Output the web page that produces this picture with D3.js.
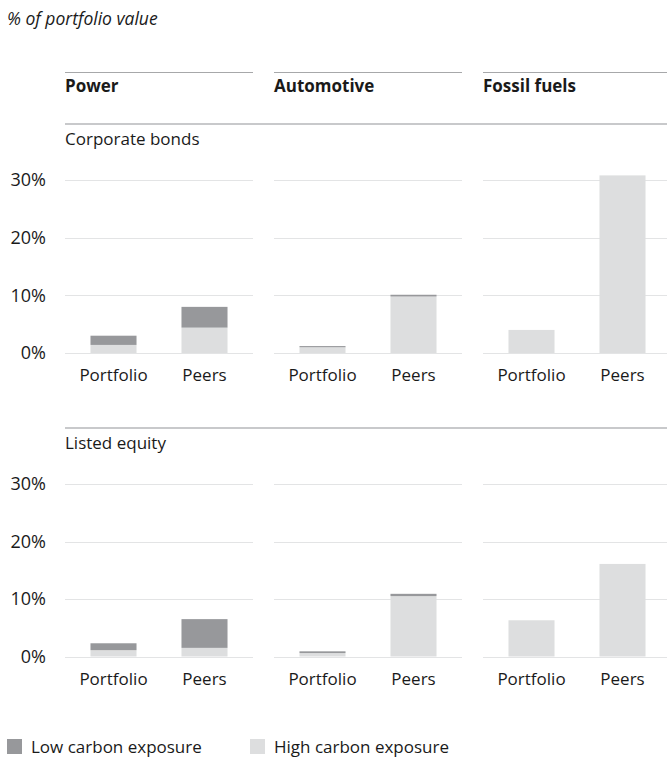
<!DOCTYPE html>
<html>
<head>
<meta charset="utf-8">
<script src="https://cdn.jsdelivr.net/npm/d3@7"></script>
<style>
  body { margin: 0; background: #fff; }
  svg text { font-family: "Open Sans", "Noto Sans", sans-serif; fill: #1a1a1a; }
  .tick text { font-size: 17px; }
</style>
</head>
<body>
<div id="chart"></div>
<script>
const sectors = ["Power", "Automotive", "Fossil fuels"];
const assetClasses = ["Corporate bonds", "Listed equity"];
const groups = ["Portfolio", "Peers"];
const yTicks = [0, 10, 20, 30];
const seriesNames = ["Low carbon exposure", "High carbon exposure"];

// values per sector: [Portfolio, Peers]
const bondsHigh = [[1.4, 4.4], [1.0, 9.8], [4.0, 30.8]];
const bondsLow = [[1.6, 3.6], [0.2, 0.3], [0, 0]];
const equityHigh = [[1.1, 1.5], [0.6, 10.5], [6.3, 16.1]];
const equityLow = [[1.2, 5.0], [0.3, 0.4], [0, 0]];

const WIDTH = 667;
const HEIGHT = 758;
const COLORS = { low: "#97989b", high: "#dddedf" };

const PANEL_X = [65, 274, 483];
const PANEL_W = 188;
const ROWS = [
  { label: assetClasses[0], high: bondsHigh, low: bondsLow, lineY: 124, zero: 353, top: 180 },
  { label: assetClasses[1], high: equityHigh, low: equityLow, lineY: 428, zero: 656.5, top: 484 }
];

const svg = d3.select("#chart")
  .append("svg")
  .attr("width", WIDTH)
  .attr("height", HEIGHT);

svg.append("text")
  .attr("x", 7)
  .attr("y", 25)
  .attr("font-size", "17.5px")
  .attr("font-style", "italic")
  .text("% of portfolio value");

// sector headers
sectors.forEach((s, i) => {
  svg.append("line")
    .attr("x1", PANEL_X[i]).attr("x2", Math.min(PANEL_X[i] + PANEL_W, WIDTH))
    .attr("y1", 72.5).attr("y2", 72.5)
    .attr("stroke", "#a7a8aa").attr("stroke-width", 1);
  svg.append("text")
    .attr("x", PANEL_X[i])
    .attr("y", 92)
    .attr("font-size", "17px")
    .attr("font-weight", "bold")
    .text(s);
});

const xScale = d3.scaleBand()
  .domain(groups)
  .range([0, PANEL_W])
  .paddingInner(0.494)
  .paddingOuter(0.28);

ROWS.forEach((row) => {
  const yScale = d3.scaleLinear().domain([0, 30]).range([row.zero, row.top]);

  svg.append("line")
    .attr("x1", PANEL_X[0]).attr("x2", WIDTH)
    .attr("y1", row.lineY).attr("y2", row.lineY)
    .attr("stroke", "#c8c9cb").attr("stroke-width", 2);

  svg.append("text")
    .attr("x", PANEL_X[0])
    .attr("y", row.lineY + 21)
    .attr("font-size", "17px")
    .text(row.label);

  const yAxis = svg.append("g")
    .attr("transform", "translate(46,0)")
    .call(d3.axisLeft(yScale).tickValues(yTicks).tickSize(0).tickPadding(0)
      .tickFormat((d) => d + "%"));
  yAxis.select(".domain").remove();
  yAxis.selectAll("text").attr("fill", "#1a1a1a").attr("font-family", null)
    .style("font-size", "18px");

  sectors.forEach((s, i) => {
    const g = svg.append("g").attr("transform", "translate(" + PANEL_X[i] + ",0)");

    g.selectAll(".grid")
      .data(yTicks)
      .enter()
      .append("line")
      .attr("x1", 0).attr("x2", PANEL_W)
      .attr("y1", (d) => Math.round(yScale(d)) + 0.5)
      .attr("y2", (d) => Math.round(yScale(d)) + 0.5)
      .attr("stroke", "#e3e4e5")
      .attr("stroke-width", 1.2);

    const data = groups.map((grp, j) => ({ group: grp, high: row.high[i][j], low: row.low[i][j] }));
    const stacked = d3.stack().keys(["high", "low"])(data);

    g.selectAll(".layer")
      .data(stacked)
      .enter()
      .append("g")
      .attr("fill", (d) => COLORS[d.key])
      .selectAll("rect")
      .data((d) => d)
      .enter()
      .append("rect")
      .attr("x", (d) => xScale(d.data.group))
      .attr("width", xScale.bandwidth())
      .attr("y", (d) => yScale(d[1]))
      .attr("height", (d) => yScale(d[0]) - yScale(d[1]));

    const xAxis = g.append("g")
      .attr("transform", "translate(0," + row.zero + ")")
      .call(d3.axisBottom(xScale).tickSize(0).tickPadding(16));
    xAxis.select(".domain").remove();
    xAxis.selectAll("text").attr("fill", "#1a1a1a").attr("font-family", null);
  });
});

// legend
const legend = svg.append("g").attr("transform", "translate(7,739)");
const legendKeys = [
  { name: seriesNames[0], key: "low", x: 0 },
  { name: seriesNames[1], key: "high", x: 243 }
];
legend.selectAll("rect")
  .data(legendKeys)
  .enter()
  .append("rect")
  .attr("x", (d) => d.x)
  .attr("y", 0)
  .attr("width", 15)
  .attr("height", 15)
  .attr("fill", (d) => COLORS[d.key]);
legend.selectAll("text")
  .data(legendKeys)
  .enter()
  .append("text")
  .attr("x", (d) => d.x + 24)
  .attr("y", 14)
  .attr("font-size", "17px")
  .text((d) => d.name);
</script>
</body>
</html>
